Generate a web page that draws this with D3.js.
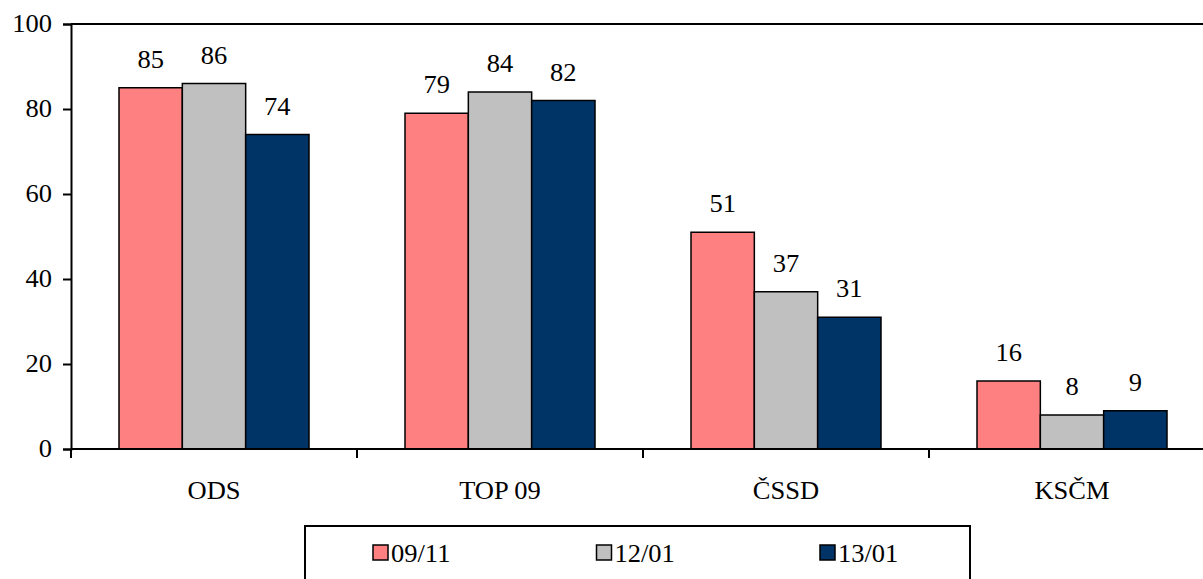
<!DOCTYPE html>
<html><head><meta charset="utf-8">
<script src="https://cdn.jsdelivr.net/npm/d3@7"></script>
<style>body{margin:0;background:#fff}svg{display:block}</style>
</head><body>
<script>
const categories = ["ODS", "TOP 09", "ČSSD", "KSČM"];
const seriesNames = ["09/11", "12/01", "13/01"];
const s0911 = [85, 79, 51, 16];
const s1201 = [86, 84, 37, 8];
const s1301 = [74, 82, 31, 9];
const yTicks = [0, 20, 40, 60, 80, 100];
const colors = ["#FF8080", "#C0C0C0", "#003366"];
const seriesValues = [s0911, s1201, s1301];

(function () {
const W = 1203, H = 579;
const mLeft = 71, mTop = 24, mBottom = 449, plotRight = 1215;
const FS = 25, STRETCH = 1.06;
const svg = d3.select("body").append("svg").attr("width", W).attr("height", H);
const font = "'Liberation Serif', 'Times New Roman', serif";

const x = d3.scaleBand().domain(categories).range([mLeft, plotRight]).paddingInner(0).paddingOuter(0);
const inner = d3.scaleBand().domain(seriesNames).range([48, x.bandwidth() - 48]);
const y = d3.scaleLinear().domain([0, 100]).range([mBottom, mTop]);

// plot border (top)
svg.append("line").attr("x1", mLeft).attr("x2", W).attr("y1", y(100)).attr("y2", y(100))
  .attr("stroke", "#000").attr("stroke-width", 2);

// bars
seriesNames.forEach((s, si) => {
  svg.append("g").selectAll("rect").data(categories).join("rect")
    .attr("x", c => x(c) + inner(s))
    .attr("y", (c, i) => y(seriesValues[si][i]))
    .attr("width", inner.bandwidth())
    .attr("height", (c, i) => y(0) - y(seriesValues[si][i]))
    .attr("fill", colors[si]).attr("stroke", "#000").attr("stroke-width", 1.5);
  svg.append("g").selectAll("text").data(categories).join("text")
    .attr("x", c => x(c) + inner(s) + inner.bandwidth() / 2)
    .attr("y", (c, i) => y(seriesValues[si][i]) - 20)
    .attr("text-anchor", "middle").attr("font-family", font).attr("font-size", FS)
    .text((c, i) => seriesValues[si][i]);
});

// y axis
const yAxis = svg.append("g").attr("transform", `translate(${mLeft},0)`)
  .call(d3.axisLeft(y).tickValues(yTicks).tickSize(8).tickPadding(11));
yAxis.select(".domain").attr("stroke-width", 2);
yAxis.selectAll(".tick line").attr("stroke-width", 2);
yAxis.selectAll("text").attr("font-family", font).attr("font-size", FS).attr("fill", "#000").attr("dy", "0.31em");

// x axis
const xAxis = svg.append("g").attr("transform", `translate(0,${mBottom})`)
  .call(d3.axisBottom(x).tickSize(0).tickPadding(32));
xAxis.select(".domain").attr("stroke-width", 2).attr("d", `M${mLeft},0H${W}`);
xAxis.selectAll("text").attr("font-family", font).attr("font-size", FS).attr("fill", "#000");
// category boundary ticks
svg.append("g").selectAll("line").data(categories).join("line")
  .attr("x1", c => x(c)).attr("x2", c => x(c))
  .attr("y1", mBottom).attr("y2", mBottom + 9)
  .attr("stroke", "#000").attr("stroke-width", 2);

// legend
const lg = svg.append("g");
lg.append("rect").attr("x", 305).attr("y", 526).attr("width", 665).attr("height", 80)
  .attr("fill", "#fff").attr("stroke", "#000").attr("stroke-width", 2);
const lx = d3.scalePoint().domain(seriesNames).range([373, 820]);
seriesNames.forEach((s, si) => {
  lg.append("rect").attr("x", lx(s)).attr("y", 545).attr("width", 15).attr("height", 15)
    .attr("fill", colors[si]).attr("stroke", "#000").attr("stroke-width", 1.5);
  lg.append("text").attr("x", lx(s) + 18).attr("y", 562)
    .attr("font-family", font).attr("font-size", FS).text(s);
});

// slight horizontal stretch of text to match reference proportions
svg.selectAll("text").each(function () {
  const len = this.getComputedTextLength();
  d3.select(this).attr("textLength", len * STRETCH).attr("lengthAdjust", "spacingAndGlyphs");
});
})();
</script>
</body></html>
